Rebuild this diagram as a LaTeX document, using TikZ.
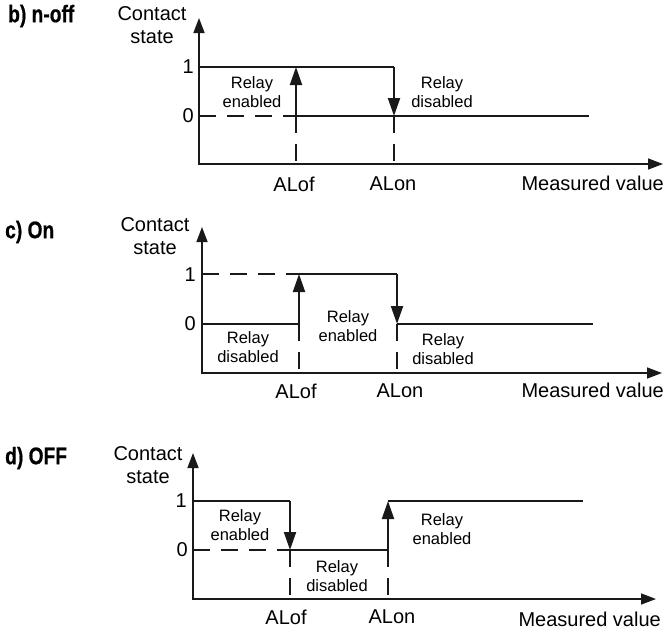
\documentclass[tikz,border=0pt]{standalone}
\usepackage{fontspec}
\setmainfont{Liberation Sans}
\newfontfamily\condbf[FakeStretch=0.8,FakeBold=0.6]{Liberation Sans Bold}
\usetikzlibrary{arrows.meta}
\definecolor{ink}{RGB}{25,25,25}
\tikzset{
  axis/.style={line width=1.5pt,ink,{Triangle[length=15pt,width=11pt]}-{Triangle[length=15pt,width=11pt]}},
  sig/.style={line width=2pt,ink},
  sw/.style={line width=2pt,ink,-{Triangle[length=18pt,width=12pt]}},
  dsh/.style={line width=1.2pt,ink,dash pattern=on 17pt off 11pt},
  ttl/.style={font=\condbf\fontsize{24}{27}\selectfont,anchor=west,inner sep=0pt},
  lbl/.style={font=\fontsize{20}{23}\selectfont,inner sep=0pt,align=center},
  relay/.style={font=\fontsize{16.5}{19.5}\selectfont,inner sep=0pt,align=center},
}
\begin{document}
\begin{tikzpicture}[x=1pt,y=-1pt]
\useasboundingbox (0,0) rectangle (669,630);

% ---- b) n-off
\node[ttl] (bt) at (8,16) {b) n-off};
\coordinate (bO) at (199,164);
\coordinate (bY) at (199,18);
\coordinate (bX) at (663,164);
\draw[axis] (bY) -- (bO) -- (bX);
\node[lbl] (bcs) at (152,25) {Contact\\state};
\node[lbl,anchor=east] (b1) at (194,67) {1};
\node[lbl,anchor=east] (b0) at (194,116) {0};
\coordinate (b1a) at (199,67);   \coordinate (b0a) at (199,116);
\coordinate (b1f) at (296,67);   \coordinate (b0f) at (296,116);
\coordinate (b1n) at (394,67);   \coordinate (b0n) at (394,116);
\coordinate (b0e) at (589,116);
\coordinate (bxf) at (296,164);  \coordinate (bxn) at (394,164);
\draw[sig] (b1a) -- (b1n);
\draw[sig] (b0f) -- (b0e);
\draw[dsh] (b0a) -- (b0f);
\draw[sw] (b0f) -- (b1f);
\draw[sw] (b1n) -- (b0n);
\draw[dsh] (b0f) -- (bxf);
\draw[dsh] (b0n) -- (bxn);
\node[relay] (bre) at (252,92) {Relay\\enabled};
\node[relay] (brd) at (442,92) {Relay\\disabled};
\node[lbl] (bof) at (294,184) {ALof};
\node[lbl] (bon) at (393,184) {ALon};
\node[lbl,anchor=east] (bmv) at (664,183) {Measured value};

% ---- c) On
\node[ttl] (ct) at (5,232) {c) On};
\coordinate (cO) at (202,373);
\coordinate (cY) at (202,227);
\coordinate (cX) at (662,373);
\draw[axis] (cY) -- (cO) -- (cX);
\node[lbl] (ccs) at (155,236) {Contact\\state};
\node[lbl,anchor=east] (c1) at (196,275) {1};
\node[lbl,anchor=east] (c0) at (196,324) {0};
\coordinate (c1a) at (202,274);  \coordinate (c0a) at (202,324);
\coordinate (c1f) at (299,274);  \coordinate (c0f) at (299,324);
\coordinate (c1n) at (397,274);  \coordinate (c0n) at (397,324);
\coordinate (c0e) at (593,324);
\coordinate (cxf) at (299,373);  \coordinate (cxn) at (397,373);
\draw[sig] (c0a) -- (c0f);
\draw[dsh] (c1a) -- (c1f);
\draw[sig] (c1f) -- (c1n);
\draw[sig] (c0n) -- (c0e);
\draw[sw] (c0f) -- (c1f);
\draw[sw] (c1n) -- (c0n);
\draw[dsh] (c0f) -- (cxf);
\draw[dsh] (c0n) -- (cxn);
\node[relay] (crd) at (248,347) {Relay\\disabled};
\node[relay] (cre) at (348,326) {Relay\\enabled};
\node[relay] (crd2) at (443,349) {Relay\\disabled};
\node[lbl] (cof) at (296,391) {ALof};
\node[lbl] (con) at (400,391) {ALon};
\node[lbl,anchor=east] (cmv) at (664,390) {Measured value};

% ---- d) OFF
\node[ttl] (dt) at (5,458) {d) OFF};
\coordinate (dO) at (193,599);
\coordinate (dY) at (193,453);
\coordinate (dX) at (656,599);
\draw[axis] (dY) -- (dO) -- (dX);
\node[lbl] (dcs) at (148,465) {Contact\\state};
\node[lbl,anchor=east] (d1) at (187,501) {1};
\node[lbl,anchor=east] (d0) at (188,550) {0};
\coordinate (d1a) at (193,501);  \coordinate (d0a) at (193,550);
\coordinate (d1f) at (290,501);  \coordinate (d0f) at (290,550);
\coordinate (d1n) at (388,501);  \coordinate (d0n) at (388,550);
\coordinate (d1e) at (583,501);
\coordinate (dxf) at (290,599);  \coordinate (dxn) at (388,599);
\draw[sig] (d1a) -- (d1f);
\draw[dsh] (d0a) -- (d0f);
\draw[sig] (d0f) -- (d0n);
\draw[sig] (d1n) -- (d1e);
\draw[sw] (d1f) -- (d0f);
\draw[sw] (d0n) -- (d1n);
\draw[dsh] (d0f) -- (dxf);
\draw[dsh] (d0n) -- (dxn);
\node[relay] (dre) at (240,525) {Relay\\enabled};
\node[relay] (drd) at (337,576) {Relay\\disabled};
\node[relay] (dre2) at (442,529) {Relay\\enabled};
\node[lbl] (dof) at (286,617) {ALof};
\node[lbl] (don) at (392,617) {ALon};
\node[lbl,anchor=east] (dmv) at (661,619) {Measured value};
\end{tikzpicture}
\end{document}
